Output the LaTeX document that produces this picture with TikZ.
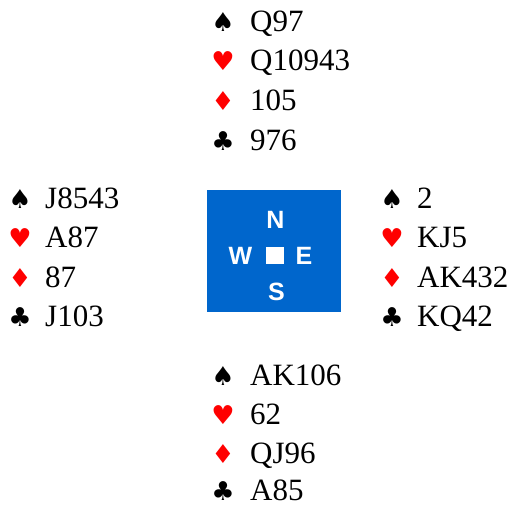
\documentclass[tikz,border=0pt]{standalone}
\usepackage{fontspec}
\setmainfont{Liberation Serif}
\newfontfamily\suitfont{DejaVu Sans}
\newfontfamily\dirfont{Liberation Sans}
\definecolor{boxblue}{RGB}{0,102,204}
\definecolor{suitred}{RGB}{255,0,0}
\begin{document}
\begin{tikzpicture}[x=1pt,y=-1pt,
  cards/.style={anchor=base west,inner sep=0pt,font=\fontsize{31}{31}\selectfont},
  suit/.style={anchor=base,inner sep=0pt,font=\suitfont\fontsize{26}{26}\selectfont},
  redsuit/.style={suit,text=suitred},
  dir/.style={anchor=base,inner sep=0pt,text=white,font=\dirfont\bfseries\fontsize{25}{25}\selectfont}]
\useasboundingbox (0,0) rectangle (511,506);
% center box
\fill[boxblue] (207,190) rectangle (341,312);
\node[dir] (dn) at (275.5,228) {N};
\node[dir] (dw) at (240.5,264) {W};
\node[dir] (de) at (304,264) {E};
\node[dir] (ds) at (276.5,300) {S};
\fill[white] (266,246.5) rectangle (283.5,264);
% hands: suit x, text x, baselines
\foreach \hx/\tx/\ya/\yb/\yc/\yd/\sa/\sb/\sc/\sd/\hn in {
  223/250/31/70/110/150/Q97/Q10943/105/976/n,
  20/45/208/247/287/326/J8543/A87/87/J103/w,
  392/417/208/247/287/326/2/KJ5/AK432/KQ42/e,
  223/250/385/424/463/500/AK106/62/QJ96/A85/s}{
  \node[suit] (\hn sp) at (\hx,\ya) {♠};
  \node[redsuit] (\hn he) at (\hx,\yb) {♥};
  \node[redsuit] (\hn di) at (\hx,\yc) {♦};
  \node[suit] (\hn cl) at (\hx,\yd) {♣};
  \node[cards] (\hn S) at (\tx,\ya) {\sa};
  \node[cards] (\hn H) at (\tx,\yb) {\sb};
  \node[cards] (\hn D) at (\tx,\yc) {\sc};
  \node[cards] (\hn C) at (\tx,\yd) {\sd};
}
\end{tikzpicture}
\end{document}
